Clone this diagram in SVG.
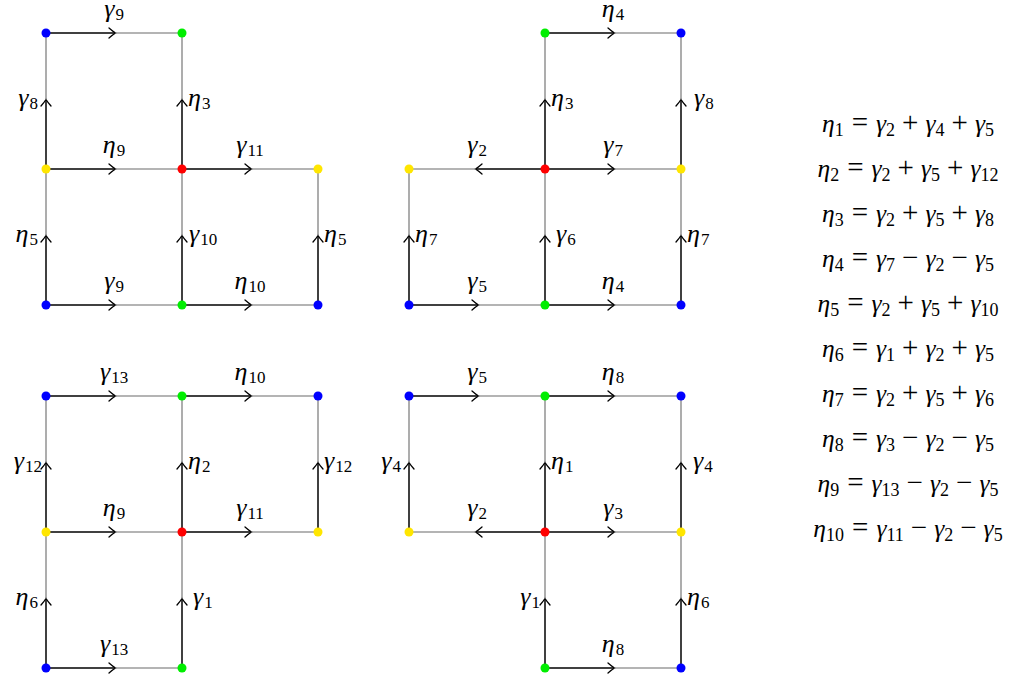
<svg xmlns="http://www.w3.org/2000/svg" width="1016" height="683" viewBox="0 0 1016 683">
<style>
.h1{stroke:#000;stroke-width:1.5;fill:none}
.h2{stroke:#6a6a6a;stroke-width:1.1;fill:none}
.lbl{font-family:'Liberation Serif','Times New Roman',serif;font-size:26px;fill:#000}
.g{font-style:italic}
.s{font-size:17px;font-style:normal}
.eq{font-family:'Liberation Serif','Times New Roman',serif;font-size:25.5px;fill:#000}
.sb{font-size:18px;font-style:normal}
.op{font-size:29px;font-style:normal}
.b{fill:#0000ff}.gr{fill:#00ee00}.r{fill:#ff0000}.y{fill:#ffe600}
</style>
<defs>
<marker id="arr" markerUnits="userSpaceOnUse" viewBox="-8 -7 10 14" refX="0" refY="0" markerWidth="10" markerHeight="14" orient="auto" overflow="visible">
<path d="M-6,-5 Q-2,-1.5 0.5,0 Q-2,1.5 -6,5" fill="none" stroke="#000" stroke-width="1.3" stroke-linecap="round"/>
</marker>
</defs>
<rect width="1016" height="683" fill="#fff"/>
<g id="connectors">
<path class="h1" d="M46,33H115" marker-end="url(#arr)"/><path class="h2" d="M115,33H182"/>
<path class="h1" d="M46,169V100" marker-end="url(#arr)"/><path class="h2" d="M46,100V33"/>
<path class="h1" d="M182,169V100" marker-end="url(#arr)"/><path class="h2" d="M182,100V33"/>
<path class="h1" d="M46,169H115" marker-end="url(#arr)"/><path class="h2" d="M115,169H182"/>
<path class="h1" d="M182,169H251" marker-end="url(#arr)"/><path class="h2" d="M251,169H318"/>
<path class="h1" d="M46,305V236" marker-end="url(#arr)"/><path class="h2" d="M46,236V169"/>
<path class="h1" d="M182,305V236" marker-end="url(#arr)"/><path class="h2" d="M182,236V169"/>
<path class="h1" d="M318,305V236" marker-end="url(#arr)"/><path class="h2" d="M318,236V169"/>
<path class="h1" d="M46,305H115" marker-end="url(#arr)"/><path class="h2" d="M115,305H182"/>
<path class="h1" d="M182,305H251" marker-end="url(#arr)"/><path class="h2" d="M251,305H318"/>
<path class="h1" d="M545,33H614" marker-end="url(#arr)"/><path class="h2" d="M614,33H681"/>
<path class="h1" d="M545,169V100" marker-end="url(#arr)"/><path class="h2" d="M545,100V33"/>
<path class="h1" d="M681,169V100" marker-end="url(#arr)"/><path class="h2" d="M681,100V33"/>
<path class="h1" d="M545,169H476" marker-end="url(#arr)"/><path class="h2" d="M476,169H409"/>
<path class="h1" d="M545,169H614" marker-end="url(#arr)"/><path class="h2" d="M614,169H681"/>
<path class="h1" d="M409,305V236" marker-end="url(#arr)"/><path class="h2" d="M409,236V169"/>
<path class="h1" d="M545,305V236" marker-end="url(#arr)"/><path class="h2" d="M545,236V169"/>
<path class="h1" d="M681,305V236" marker-end="url(#arr)"/><path class="h2" d="M681,236V169"/>
<path class="h1" d="M409,305H478" marker-end="url(#arr)"/><path class="h2" d="M478,305H545"/>
<path class="h1" d="M545,305H614" marker-end="url(#arr)"/><path class="h2" d="M614,305H681"/>
<path class="h1" d="M46,396H115" marker-end="url(#arr)"/><path class="h2" d="M115,396H182"/>
<path class="h1" d="M182,396H251" marker-end="url(#arr)"/><path class="h2" d="M251,396H318"/>
<path class="h1" d="M46,532V463" marker-end="url(#arr)"/><path class="h2" d="M46,463V396"/>
<path class="h1" d="M182,532V463" marker-end="url(#arr)"/><path class="h2" d="M182,463V396"/>
<path class="h1" d="M318,532V463" marker-end="url(#arr)"/><path class="h2" d="M318,463V396"/>
<path class="h1" d="M46,532H115" marker-end="url(#arr)"/><path class="h2" d="M115,532H182"/>
<path class="h1" d="M182,532H251" marker-end="url(#arr)"/><path class="h2" d="M251,532H318"/>
<path class="h1" d="M46,668V599" marker-end="url(#arr)"/><path class="h2" d="M46,599V532"/>
<path class="h1" d="M182,668V599" marker-end="url(#arr)"/><path class="h2" d="M182,599V532"/>
<path class="h1" d="M46,668H115" marker-end="url(#arr)"/><path class="h2" d="M115,668H182"/>
<path class="h1" d="M409,396H478" marker-end="url(#arr)"/><path class="h2" d="M478,396H545"/>
<path class="h1" d="M545,396H614" marker-end="url(#arr)"/><path class="h2" d="M614,396H681"/>
<path class="h1" d="M409,532V463" marker-end="url(#arr)"/><path class="h2" d="M409,463V396"/>
<path class="h1" d="M545,532V463" marker-end="url(#arr)"/><path class="h2" d="M545,463V396"/>
<path class="h1" d="M681,532V463" marker-end="url(#arr)"/><path class="h2" d="M681,463V396"/>
<path class="h1" d="M545,532H476" marker-end="url(#arr)"/><path class="h2" d="M476,532H409"/>
<path class="h1" d="M545,532H614" marker-end="url(#arr)"/><path class="h2" d="M614,532H681"/>
<path class="h1" d="M545,668V599" marker-end="url(#arr)"/><path class="h2" d="M545,599V532"/>
<path class="h1" d="M681,668V599" marker-end="url(#arr)"/><path class="h2" d="M681,599V532"/>
<path class="h1" d="M545,668H614" marker-end="url(#arr)"/><path class="h2" d="M614,668H681"/>
</g>
<g id="labels" class="lbl">
<text x="114" y="17" text-anchor="middle"><tspan class="g">γ</tspan><tspan class="s" dx="1" dy="3">9</tspan></text>
<text x="38" y="106" text-anchor="end"><tspan class="g">γ</tspan><tspan class="s" dx="1" dy="3">8</tspan></text>
<text x="188" y="106"><tspan class="g">η</tspan><tspan class="s" dx="1" dy="3">3</tspan></text>
<text x="114" y="153" text-anchor="middle"><tspan class="g">η</tspan><tspan class="s" dx="1" dy="3">9</tspan></text>
<text x="250" y="153" text-anchor="middle"><tspan class="g">γ</tspan><tspan class="s" dx="1" dy="3">11</tspan></text>
<text x="38" y="242" text-anchor="end"><tspan class="g">η</tspan><tspan class="s" dx="1" dy="3">5</tspan></text>
<text x="189" y="242"><tspan class="g">γ</tspan><tspan class="s" dx="1" dy="3">10</tspan></text>
<text x="324" y="242"><tspan class="g">η</tspan><tspan class="s" dx="1" dy="3">5</tspan></text>
<text x="114" y="289" text-anchor="middle"><tspan class="g">γ</tspan><tspan class="s" dx="1" dy="3">9</tspan></text>
<text x="250" y="289" text-anchor="middle"><tspan class="g">η</tspan><tspan class="s" dx="1" dy="3">10</tspan></text>
<text x="613" y="17" text-anchor="middle"><tspan class="g">η</tspan><tspan class="s" dx="1" dy="3">4</tspan></text>
<text x="551" y="106"><tspan class="g">η</tspan><tspan class="s" dx="1" dy="3">3</tspan></text>
<text x="694" y="106"><tspan class="g">γ</tspan><tspan class="s" dx="1" dy="3">8</tspan></text>
<text x="477" y="153" text-anchor="middle"><tspan class="g">γ</tspan><tspan class="s" dx="1" dy="3">2</tspan></text>
<text x="613" y="153" text-anchor="middle"><tspan class="g">γ</tspan><tspan class="s" dx="1" dy="3">7</tspan></text>
<text x="415" y="242"><tspan class="g">η</tspan><tspan class="s" dx="1" dy="3">7</tspan></text>
<text x="556" y="242"><tspan class="g">γ</tspan><tspan class="s" dx="1" dy="3">6</tspan></text>
<text x="687" y="242"><tspan class="g">η</tspan><tspan class="s" dx="1" dy="3">7</tspan></text>
<text x="477" y="289" text-anchor="middle"><tspan class="g">γ</tspan><tspan class="s" dx="1" dy="3">5</tspan></text>
<text x="613" y="289" text-anchor="middle"><tspan class="g">η</tspan><tspan class="s" dx="1" dy="3">4</tspan></text>
<text x="114" y="380" text-anchor="middle"><tspan class="g">γ</tspan><tspan class="s" dx="1" dy="3">13</tspan></text>
<text x="250" y="380" text-anchor="middle"><tspan class="g">η</tspan><tspan class="s" dx="1" dy="3">10</tspan></text>
<text x="42" y="469" text-anchor="end"><tspan class="g">γ</tspan><tspan class="s" dx="1" dy="3">12</tspan></text>
<text x="188" y="469"><tspan class="g">η</tspan><tspan class="s" dx="1" dy="3">2</tspan></text>
<text x="324" y="469"><tspan class="g">γ</tspan><tspan class="s" dx="1" dy="3">12</tspan></text>
<text x="114" y="516" text-anchor="middle"><tspan class="g">η</tspan><tspan class="s" dx="1" dy="3">9</tspan></text>
<text x="250" y="516" text-anchor="middle"><tspan class="g">γ</tspan><tspan class="s" dx="1" dy="3">11</tspan></text>
<text x="38" y="605" text-anchor="end"><tspan class="g">η</tspan><tspan class="s" dx="1" dy="3">6</tspan></text>
<text x="193" y="605"><tspan class="g">γ</tspan><tspan class="s" dx="1" dy="3">1</tspan></text>
<text x="114" y="652" text-anchor="middle"><tspan class="g">γ</tspan><tspan class="s" dx="1" dy="3">13</tspan></text>
<text x="477" y="380" text-anchor="middle"><tspan class="g">γ</tspan><tspan class="s" dx="1" dy="3">5</tspan></text>
<text x="613" y="380" text-anchor="middle"><tspan class="g">η</tspan><tspan class="s" dx="1" dy="3">8</tspan></text>
<text x="401" y="469" text-anchor="end"><tspan class="g">γ</tspan><tspan class="s" dx="1" dy="3">4</tspan></text>
<text x="551" y="469"><tspan class="g">η</tspan><tspan class="s" dx="1" dy="3">1</tspan></text>
<text x="693" y="469"><tspan class="g">γ</tspan><tspan class="s" dx="1" dy="3">4</tspan></text>
<text x="477" y="516" text-anchor="middle"><tspan class="g">γ</tspan><tspan class="s" dx="1" dy="3">2</tspan></text>
<text x="613" y="516" text-anchor="middle"><tspan class="g">γ</tspan><tspan class="s" dx="1" dy="3">3</tspan></text>
<text x="540" y="605" text-anchor="end"><tspan class="g">γ</tspan><tspan class="s" dx="1" dy="3">1</tspan></text>
<text x="687" y="605"><tspan class="g">η</tspan><tspan class="s" dx="1" dy="3">6</tspan></text>
<text x="613" y="652" text-anchor="middle"><tspan class="g">η</tspan><tspan class="s" dx="1" dy="3">8</tspan></text>
</g>
<g id="nodes">
<g id="p1-n1"><circle cx="46" cy="33" r="4.5" class="b"/></g>
<g id="p1-n2"><circle cx="182" cy="33" r="4.5" class="gr"/></g>
<g id="p1-n3"><circle cx="46" cy="169" r="4.5" class="y"/></g>
<g id="p1-n4"><circle cx="182" cy="169" r="4.5" class="r"/></g>
<g id="p1-n5"><circle cx="318" cy="169" r="4.5" class="y"/></g>
<g id="p1-n6"><circle cx="46" cy="305" r="4.5" class="b"/></g>
<g id="p1-n7"><circle cx="182" cy="305" r="4.5" class="gr"/></g>
<g id="p1-n8"><circle cx="318" cy="305" r="4.5" class="b"/></g>
<g id="p2-n1"><circle cx="545" cy="33" r="4.5" class="gr"/></g>
<g id="p2-n2"><circle cx="681" cy="33" r="4.5" class="b"/></g>
<g id="p2-n3"><circle cx="409" cy="169" r="4.5" class="y"/></g>
<g id="p2-n4"><circle cx="545" cy="169" r="4.5" class="r"/></g>
<g id="p2-n5"><circle cx="681" cy="169" r="4.5" class="y"/></g>
<g id="p2-n6"><circle cx="409" cy="305" r="4.5" class="b"/></g>
<g id="p2-n7"><circle cx="545" cy="305" r="4.5" class="gr"/></g>
<g id="p2-n8"><circle cx="681" cy="305" r="4.5" class="b"/></g>
<g id="p3-n1"><circle cx="46" cy="396" r="4.5" class="b"/></g>
<g id="p3-n2"><circle cx="182" cy="396" r="4.5" class="gr"/></g>
<g id="p3-n3"><circle cx="318" cy="396" r="4.5" class="b"/></g>
<g id="p3-n4"><circle cx="46" cy="532" r="4.5" class="y"/></g>
<g id="p3-n5"><circle cx="182" cy="532" r="4.5" class="r"/></g>
<g id="p3-n6"><circle cx="318" cy="532" r="4.5" class="y"/></g>
<g id="p3-n7"><circle cx="46" cy="668" r="4.5" class="b"/></g>
<g id="p3-n8"><circle cx="182" cy="668" r="4.5" class="gr"/></g>
<g id="p4-n1"><circle cx="409" cy="396" r="4.5" class="b"/></g>
<g id="p4-n2"><circle cx="545" cy="396" r="4.5" class="gr"/></g>
<g id="p4-n3"><circle cx="681" cy="396" r="4.5" class="b"/></g>
<g id="p4-n4"><circle cx="409" cy="532" r="4.5" class="y"/></g>
<g id="p4-n5"><circle cx="545" cy="532" r="4.5" class="r"/></g>
<g id="p4-n6"><circle cx="681" cy="532" r="4.5" class="y"/></g>
<g id="p4-n7"><circle cx="545" cy="668" r="4.5" class="gr"/></g>
<g id="p4-n8"><circle cx="681" cy="668" r="4.5" class="b"/></g>
</g>
<g id="equations" class="eq" text-anchor="middle">
<text x="908" y="132"><tspan class="g">η</tspan><tspan class="sb" dy="4">1</tspan><tspan class="op" dy="-4" dx="8">=</tspan><tspan class="g" dx="8">γ</tspan><tspan class="sb" dy="4">2</tspan><tspan class="op" dy="-4" dx="7">+</tspan><tspan class="g" dx="7">γ</tspan><tspan class="sb" dy="4">4</tspan><tspan class="op" dy="-4" dx="7">+</tspan><tspan class="g" dx="7">γ</tspan><tspan class="sb" dy="4">5</tspan></text>
<text x="908" y="177"><tspan class="g">η</tspan><tspan class="sb" dy="4">2</tspan><tspan class="op" dy="-4" dx="8">=</tspan><tspan class="g" dx="8">γ</tspan><tspan class="sb" dy="4">2</tspan><tspan class="op" dy="-4" dx="7">+</tspan><tspan class="g" dx="7">γ</tspan><tspan class="sb" dy="4">5</tspan><tspan class="op" dy="-4" dx="7">+</tspan><tspan class="g" dx="7">γ</tspan><tspan class="sb" dy="4">12</tspan></text>
<text x="908" y="222"><tspan class="g">η</tspan><tspan class="sb" dy="4">3</tspan><tspan class="op" dy="-4" dx="8">=</tspan><tspan class="g" dx="8">γ</tspan><tspan class="sb" dy="4">2</tspan><tspan class="op" dy="-4" dx="7">+</tspan><tspan class="g" dx="7">γ</tspan><tspan class="sb" dy="4">5</tspan><tspan class="op" dy="-4" dx="7">+</tspan><tspan class="g" dx="7">γ</tspan><tspan class="sb" dy="4">8</tspan></text>
<text x="908" y="267"><tspan class="g">η</tspan><tspan class="sb" dy="4">4</tspan><tspan class="op" dy="-4" dx="8">=</tspan><tspan class="g" dx="8">γ</tspan><tspan class="sb" dy="4">7</tspan><tspan class="op" dy="-4" dx="7">−</tspan><tspan class="g" dx="7">γ</tspan><tspan class="sb" dy="4">2</tspan><tspan class="op" dy="-4" dx="7">−</tspan><tspan class="g" dx="7">γ</tspan><tspan class="sb" dy="4">5</tspan></text>
<text x="908" y="312"><tspan class="g">η</tspan><tspan class="sb" dy="4">5</tspan><tspan class="op" dy="-4" dx="8">=</tspan><tspan class="g" dx="8">γ</tspan><tspan class="sb" dy="4">2</tspan><tspan class="op" dy="-4" dx="7">+</tspan><tspan class="g" dx="7">γ</tspan><tspan class="sb" dy="4">5</tspan><tspan class="op" dy="-4" dx="7">+</tspan><tspan class="g" dx="7">γ</tspan><tspan class="sb" dy="4">10</tspan></text>
<text x="908" y="357"><tspan class="g">η</tspan><tspan class="sb" dy="4">6</tspan><tspan class="op" dy="-4" dx="8">=</tspan><tspan class="g" dx="8">γ</tspan><tspan class="sb" dy="4">1</tspan><tspan class="op" dy="-4" dx="7">+</tspan><tspan class="g" dx="7">γ</tspan><tspan class="sb" dy="4">2</tspan><tspan class="op" dy="-4" dx="7">+</tspan><tspan class="g" dx="7">γ</tspan><tspan class="sb" dy="4">5</tspan></text>
<text x="908" y="402"><tspan class="g">η</tspan><tspan class="sb" dy="4">7</tspan><tspan class="op" dy="-4" dx="8">=</tspan><tspan class="g" dx="8">γ</tspan><tspan class="sb" dy="4">2</tspan><tspan class="op" dy="-4" dx="7">+</tspan><tspan class="g" dx="7">γ</tspan><tspan class="sb" dy="4">5</tspan><tspan class="op" dy="-4" dx="7">+</tspan><tspan class="g" dx="7">γ</tspan><tspan class="sb" dy="4">6</tspan></text>
<text x="908" y="447"><tspan class="g">η</tspan><tspan class="sb" dy="4">8</tspan><tspan class="op" dy="-4" dx="8">=</tspan><tspan class="g" dx="8">γ</tspan><tspan class="sb" dy="4">3</tspan><tspan class="op" dy="-4" dx="7">−</tspan><tspan class="g" dx="7">γ</tspan><tspan class="sb" dy="4">2</tspan><tspan class="op" dy="-4" dx="7">−</tspan><tspan class="g" dx="7">γ</tspan><tspan class="sb" dy="4">5</tspan></text>
<text x="908" y="492"><tspan class="g">η</tspan><tspan class="sb" dy="4">9</tspan><tspan class="op" dy="-4" dx="8">=</tspan><tspan class="g" dx="8">γ</tspan><tspan class="sb" dy="4">13</tspan><tspan class="op" dy="-4" dx="7">−</tspan><tspan class="g" dx="7">γ</tspan><tspan class="sb" dy="4">2</tspan><tspan class="op" dy="-4" dx="7">−</tspan><tspan class="g" dx="7">γ</tspan><tspan class="sb" dy="4">5</tspan></text>
<text x="908" y="537"><tspan class="g">η</tspan><tspan class="sb" dy="4">10</tspan><tspan class="op" dy="-4" dx="8">=</tspan><tspan class="g" dx="8">γ</tspan><tspan class="sb" dy="4">11</tspan><tspan class="op" dy="-4" dx="7">−</tspan><tspan class="g" dx="7">γ</tspan><tspan class="sb" dy="4">2</tspan><tspan class="op" dy="-4" dx="7">−</tspan><tspan class="g" dx="7">γ</tspan><tspan class="sb" dy="4">5</tspan></text>
</g>
</svg>
